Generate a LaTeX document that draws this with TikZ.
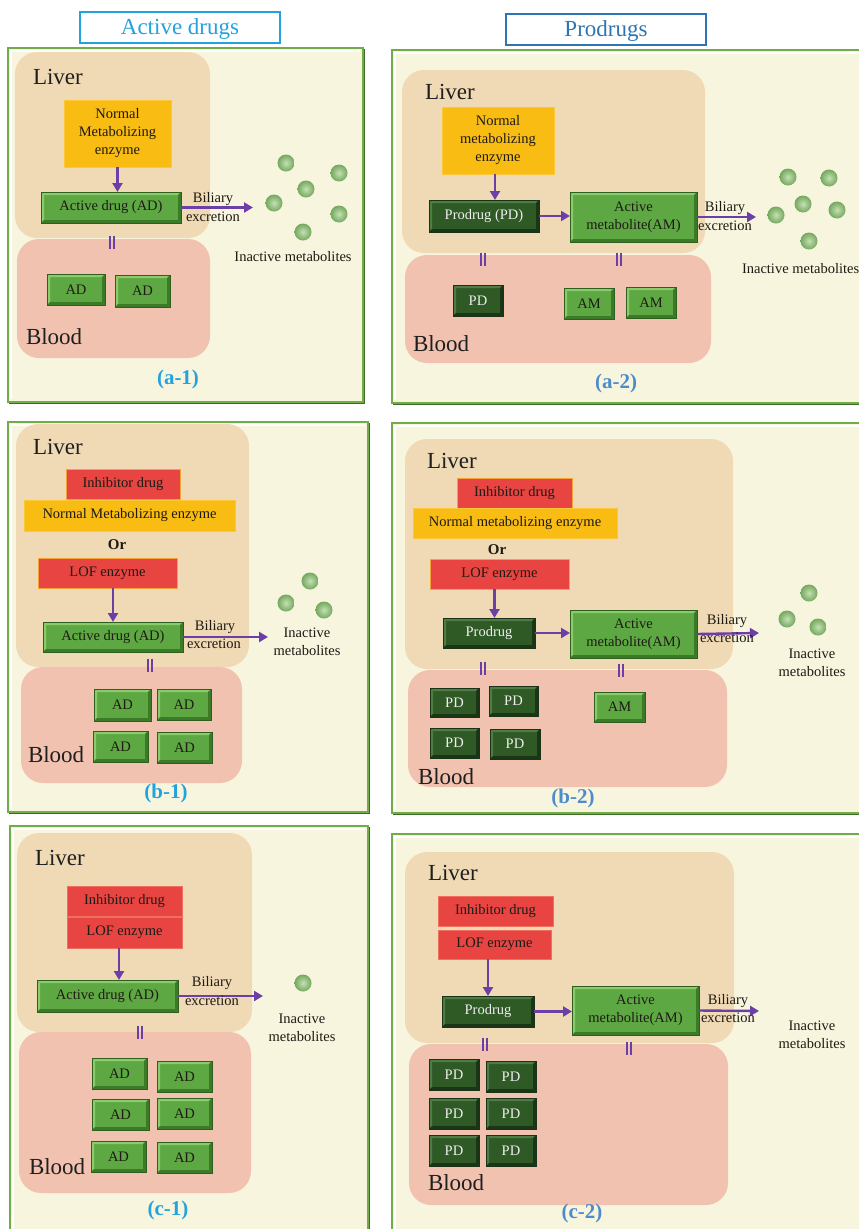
\documentclass[tikz,border=0pt]{standalone}
\usepackage{fontspec}
\setmainfont{Liberation Serif}
\usetikzlibrary{arrows.meta}
\definecolor{cream}{HTML}{F8F5DF}
\definecolor{framegreen}{HTML}{70AD47}
\definecolor{frameshadow}{HTML}{3E6B2A}
\definecolor{liverc}{HTML}{F0D9B5}
\definecolor{bloodc}{HTML}{F2C2B0}
\definecolor{ambr}{HTML}{F9BC13}
\definecolor{ambrb}{HTML}{FAC83A}
\definecolor{redf}{HTML}{E74442}
\definecolor{redb}{HTML}{F4A23A}
\definecolor{redb2}{HTML}{F07060}
\definecolor{adg}{HTML}{5EA843}
\definecolor{adhi}{HTML}{8CCB6B}
\definecolor{addark}{HTML}{3B7A27}
\definecolor{adedge}{HTML}{2F5F1F}
\definecolor{pdg}{HTML}{2F5A26}
\definecolor{pdhi}{HTML}{4E7C44}
\definecolor{pddark}{HTML}{1B3616}
\definecolor{pdedge}{HTML}{1A3316}
\definecolor{pdtext}{HTML}{EEEEEE}
\definecolor{txtdark}{HTML}{1E1A14}
\definecolor{purp}{HTML}{6B3FA5}
\definecolor{labA}{HTML}{22A3DD}
\definecolor{labP}{HTML}{4C8CCB}
\definecolor{hdrPc}{HTML}{2E75B6}
\definecolor{ballc}{HTML}{74A85E}
\definecolor{ballhi}{HTML}{C4E0B4}
\newcommand{\mybevel}[3]{%
  \path (path picture bounding box.north west) coordinate (bvNW)
        (path picture bounding box.north east) coordinate (bvNE)
        (path picture bounding box.south west) coordinate (bvSW)
        (path picture bounding box.south east) coordinate (bvSE);
  \fill[#1] (bvNW) -- (bvNE) -- ([shift={(-#3,-#3)}]bvNE) -- ([shift={(#3,-#3)}]bvNW) -- cycle;
  \fill[#1] (bvNW) -- (bvSW) -- ([shift={(#3,#3)}]bvSW) -- ([shift={(#3,-#3)}]bvNW) -- cycle;
  \fill[#2] (bvNE) -- (bvSE) -- ([shift={(-#3,#3)}]bvSE) -- ([shift={(-#3,-#3)}]bvNE) -- cycle;
  \fill[#2] (bvSW) -- (bvSE) -- ([shift={(-#3,#3)}]bvSE) -- ([shift={(#3,#3)}]bvSW) -- cycle;
}
\newcommand{\bx}[7]{\node[#1, minimum width={(#5)-(#3)}, minimum height={(#6)-(#4)}] (#2) at ({((#3)+(#5))/2},{((#4)+(#6))/2}) {#7};}
\newcommand{\panelbox}[4]{%
  \fill[cream] (#1,#2) rectangle (#3,#4);
  \draw[white, line width=1.5pt] ({#1+3},{#4-3}) -- ({#1+3},{#2+3}) -- ({#3-3},{#2+3});
  \draw[framegreen, line width=2.5pt] (#1,#2) rectangle (#3,#4);
  \draw[frameshadow, line width=1.8pt] ({#1+1},{#4+1.5}) -- ({#3+1.5},{#4+1.5}) -- ({#3+1.5},{#2+1});
}
\newcommand{\eqm}[2]{\draw[purp, line width=1.9pt] ({#1-2.4},{#2-6.5}) -- ({#1-2.4},{#2+6.5}) ({#1+2.4},{#2-6.5}) -- ({#1+2.4},{#2+6.5});}
\newcommand{\ball}[2]{\shade[inner color=ballhi, outer color=ballc] (#1,#2) circle (8.5);}
\tikzset{
  every node/.style={inner sep=0pt, outer sep=0pt},
  big/.style={font=\fontsize{23}{27}\selectfont, text=black!88},
  sm/.style={font=\fontsize{14.5}{18}\selectfont, text=txtdark, align=center},
  yellowbox/.style={sm, fill=ambr, draw=ambrb, line width=0.8pt},
  redbox/.style={sm, fill=redf, draw=redb, line width=0.8pt},
  redboxc/.style={sm, fill=redf, draw=redb2, line width=0.6pt},
  adbox/.style={sm, fill=adg, draw=adedge, line width=0.8pt, path picture={\mybevel{adhi}{addark}{3pt}}},
  pdbox/.style={sm, text=pdtext, fill=pdg, draw=pdedge, line width=0.8pt, path picture={\mybevel{pdhi}{pddark}{3pt}}},
  arr/.style={draw=purp, line width=2.4pt, -{Triangle[length=9pt,width=10pt]}},
  liver/.style={fill=liverc, rounded corners=22pt},
  blood/.style={fill=bloodc, rounded corners=22pt},
  labA/.style={font=\bfseries\fontsize{21}{25}\selectfont, text=labA},
  labP/.style={font=\bfseries\fontsize{21}{25}\selectfont, text=labP},
  orlab/.style={font=\bfseries\fontsize{15}{18}\selectfont, text=txtdark},
  hdr/.style={line width=1.3pt, minimum width=200, minimum height=31},
  hdrtext/.style={font=\fontsize{23}{27}\selectfont},
}
\begin{document}
\begin{tikzpicture}[x=1pt, y=-1pt]
\useasboundingbox (0,0) rectangle (859,1229);
\fill[white] (0,0) rectangle (859,1229);
\clip (0,0) rectangle (859,1229);

% headers
\node[hdr, draw=labA] (hA) at (180,27.5) {};
\node[hdrtext, text=labA] (hAt) at (180,29) {Active drugs};
\node[hdr, draw=hdrPc] (hP) at (606,29.5) {};
\node[hdrtext, text=hdrPc] (hPt) at (606,31) {Prodrugs};

% panels
\panelbox{8}{48}{363}{402}
\panelbox{392}{50}{875}{403}
\panelbox{8}{422}{368}{812}
\panelbox{392}{423}{875}{813}
\panelbox{10}{826}{368}{1245}
\panelbox{392}{834}{875}{1245}

% ================= (a-1)
\fill[liver] (15,52) rectangle (210,238);
\fill[blood] (17,239) rectangle (210,358);
\node[big, anchor=west] (livA1) at (33,77) {Liver};
\node[big, anchor=west] (bloA1) at (26,337) {Blood};
\bx{yellowbox}{enzA1}{64}{100}{171}{167}{Normal\\Metabolizing\\enzyme}
\bx{adbox}{adA1}{41}{192}{181}{223}{Active drug (AD)}
\draw[arr] (enzA1.south) -- (enzA1.south |- adA1.north);
\coordinate (exA1) at (253,207.5);
\draw[arr] (adA1.east) -- (exA1);
\node[sm] (bilA1) at (213,199) {Biliary};
\node[sm] (excA1) at (213,217) {excretion};
\eqm{112}{242}
\bx{adbox}{adA1a}{47}{274}{105}{305}{AD}
\bx{adbox}{adA1b}{115}{275}{170}{307}{AD}
\ball{286}{163}\ball{339}{173}\ball{306}{189}\ball{274}{203}\ball{339}{214}\ball{303}{232}
\node[sm] (inA1) at (293,257) {Inactive metabolites};
\node[labA] (lA1) at (178,379) {(a-1)};

% ================= (a-2)
\fill[liver] (402,70) rectangle (705,253);
\fill[blood] (405,255) rectangle (711,363);
\node[big, anchor=west] (livA2) at (425,92) {Liver};
\node[big, anchor=west] (bloA2) at (413,344) {Blood};
\bx{yellowbox}{enzA2}{442}{107}{554}{174}{Normal\\metabolizing\\enzyme}
\bx{pdbox}{pdA2}{429}{200}{539}{232}{Prodrug (PD)}
\bx{adbox}{amA2}{570}{192}{697}{242}{Active\\metabolite(AM)}
\draw[arr] ([xshift=-3pt]enzA2.south) -- ([xshift=-3pt]enzA2.south |- pdA2.north);
\draw[arr] (pdA2.east) -- (pdA2.east -| amA2.west);
\coordinate (exA2) at (756,217);
\draw[arr] (amA2.east) -- (exA2);
\node[sm] (bilA2) at (725,208) {Biliary};
\node[sm] (excA2) at (725,226) {excretion};
\eqm{483}{259}
\eqm{619}{259}
\bx{pdbox}{pdA2a}{453}{285}{503}{316}{PD}
\bx{adbox}{amA2a}{564}{288}{614}{319}{AM}
\bx{adbox}{amA2b}{626}{287}{676}{318}{AM}
\ball{788}{177}\ball{829}{178}\ball{803}{204}\ball{776}{215}\ball{837}{210}\ball{809}{241}
\node[sm, anchor=west] (inA2) at (742,269) {Inactive metabolites};
\node[labP] (lA2) at (616,383) {(a-2)};

% ================= (b-1)
\fill[liver] (16,424) rectangle (249,667);
\fill[blood] (21,667) rectangle (242,783);
\node[big, anchor=west] (livB1) at (33,447) {Liver};
\node[big, anchor=west] (bloB1) at (28,755) {Blood};
\bx{redbox}{inhB1}{66}{469}{180}{499}{Inhibitor drug}
\bx{yellowbox}{enzB1}{24}{500}{235}{531}{Normal Metabolizing enzyme}
\node[orlab] (orB1) at (117,545) {Or};
\bx{redbox}{lofB1}{38}{558}{177}{588}{LOF enzyme}
\bx{adbox}{adB1}{43}{622}{183}{652}{Active drug (AD)}
\draw[arr] (adB1.north |- lofB1.south) -- (adB1.north);
\coordinate (exB1) at (268,637);
\draw[arr] (adB1.east) -- (exB1);
\node[sm] (bilB1) at (215,627) {Biliary};
\node[sm] (excB1) at (214,644) {excretion};
\eqm{150}{665}
\bx{adbox}{adB1a}{94}{689}{151}{721}{AD}
\bx{adbox}{adB1b}{157}{689}{211}{720}{AD}
\bx{adbox}{adB1c}{93}{731}{148}{762}{AD}
\bx{adbox}{adB1d}{157}{732}{212}{763}{AD}
\ball{310}{581}\ball{286}{603}\ball{324}{610}
\node[sm] (inB1) at (307,642) {Inactive\\metabolites};
\node[labA] (lB1) at (166,793) {(b-1)};

% ================= (b-2)
\fill[liver] (405,439) rectangle (733,669);
\fill[blood] (408,670) rectangle (727,787);
\node[big, anchor=west] (livB2) at (427,461) {Liver};
\node[big, anchor=west] (bloB2) at (418,777) {Blood};
\bx{redbox}{inhB2}{457}{478}{572}{508}{Inhibitor drug}
\bx{yellowbox}{enzB2}{413}{508}{617}{538}{Normal metabolizing enzyme}
\node[orlab] (orB2) at (497,550) {Or};
\bx{redbox}{lofB2}{430}{559}{569}{589}{LOF enzyme}
\bx{pdbox}{pdB2}{443}{618}{535}{648}{Prodrug}
\bx{adbox}{amB2}{570}{610}{697}{658}{Active\\metabolite(AM)}
\draw[arr] ([xshift=-5pt]lofB2.south) -- ([xshift=-5pt]lofB2.south |- pdB2.north);
\draw[arr] (pdB2.east) -- (pdB2.east -| amB2.west);
\coordinate (exB2) at (759,633);
\draw[arr] (amB2.east) -- (exB2);
\node[sm] (bilB2) at (727,621) {Biliary};
\node[sm] (excB2) at (727,638) {excretion};
\eqm{483}{668}
\eqm{621}{670}
\bx{pdbox}{pdB2a}{430}{688}{479}{717}{PD}
\bx{pdbox}{pdB2b}{489}{686}{538}{716}{PD}
\bx{pdbox}{pdB2c}{430}{728}{479}{758}{PD}
\bx{pdbox}{pdB2d}{490}{729}{540}{759}{PD}
\bx{adbox}{amB2a}{594}{692}{645}{722}{AM}
\ball{809}{593}\ball{787}{619}\ball{818}{627}
\node[sm] (inB2) at (812,663) {Inactive\\metabolites};
\node[labP] (lB2) at (573,798) {(b-2)};

% ================= (c-1)
\fill[liver] (17,833) rectangle (252,1032);
\fill[blood] (19,1032) rectangle (251,1193);
\node[big, anchor=west] (livC1) at (35,858) {Liver};
\node[big, anchor=west] (bloC1) at (29,1167) {Blood};
\bx{redboxc}{inhC1}{67}{886}{182}{916}{Inhibitor drug}
\bx{redboxc}{lofC1}{67}{917}{182}{948}{LOF enzyme}
\bx{adbox}{adC1}{37}{980}{178}{1012}{Active drug (AD)}
\draw[arr] ([xshift=-5.5pt]lofC1.south) -- ([xshift=-5.5pt]lofC1.south |- adC1.north);
\coordinate (exC1) at (263,996);
\draw[arr] (adC1.east) -- (exC1);
\node[sm] (bilC1) at (212,983) {Biliary};
\node[sm] (excC1) at (212,1001) {excretion};
\eqm{140}{1032}
\bx{adbox}{adC1a}{92}{1058}{147}{1089}{AD}
\bx{adbox}{adC1b}{157}{1061}{212}{1092}{AD}
\bx{adbox}{adC1c}{92}{1099}{149}{1130}{AD}
\bx{adbox}{adC1d}{157}{1098}{212}{1129}{AD}
\bx{adbox}{adC1e}{91}{1141}{146}{1172}{AD}
\bx{adbox}{adC1f}{157}{1142}{212}{1173}{AD}
\ball{303}{983}
\node[sm] (inC1) at (302,1028) {Inactive\\metabolites};
\node[labA] (lC1) at (168,1210) {(c-1)};

% ================= (c-2)
\fill[liver] (405,852) rectangle (734,1043);
\fill[blood] (409,1044) rectangle (728,1205);
\node[big, anchor=west] (livC2) at (428,873) {Liver};
\node[big, anchor=west] (bloC2) at (428,1183) {Blood};
\bx{redboxc}{inhC2}{438}{896}{553}{926}{Inhibitor drug}
\bx{redboxc}{lofC2}{438}{930}{551}{959}{LOF enzyme}
\bx{pdbox}{pdC2}{442}{996}{534}{1027}{Prodrug}
\bx{adbox}{amC2}{572}{986}{699}{1035}{Active\\metabolite(AM)}
\draw[arr] (pdC2.north |- lofC2.south) -- (pdC2.north);
\draw[arr] (pdC2.east) -- (pdC2.east -| amC2.west);
\coordinate (exC2) at (759,1011);
\draw[arr] (amC2.east) -- (exC2);
\node[sm] (bilC2) at (728,1001) {Biliary};
\node[sm] (excC2) at (728,1018) {excretion};
\eqm{485}{1044}
\eqm{629}{1048}
\bx{pdbox}{pdC2a}{429}{1059}{479}{1090}{PD}
\bx{pdbox}{pdC2b}{486}{1061}{536}{1092}{PD}
\bx{pdbox}{pdC2c}{429}{1098}{479}{1129}{PD}
\bx{pdbox}{pdC2d}{486}{1098}{536}{1129}{PD}
\bx{pdbox}{pdC2e}{429}{1135}{479}{1166}{PD}
\bx{pdbox}{pdC2f}{486}{1135}{536}{1166}{PD}
\node[sm] (inC2) at (812,1035) {Inactive\\metabolites};
\node[labP] (lC2) at (582,1213) {(c-2)};
\end{tikzpicture}
\end{document}
